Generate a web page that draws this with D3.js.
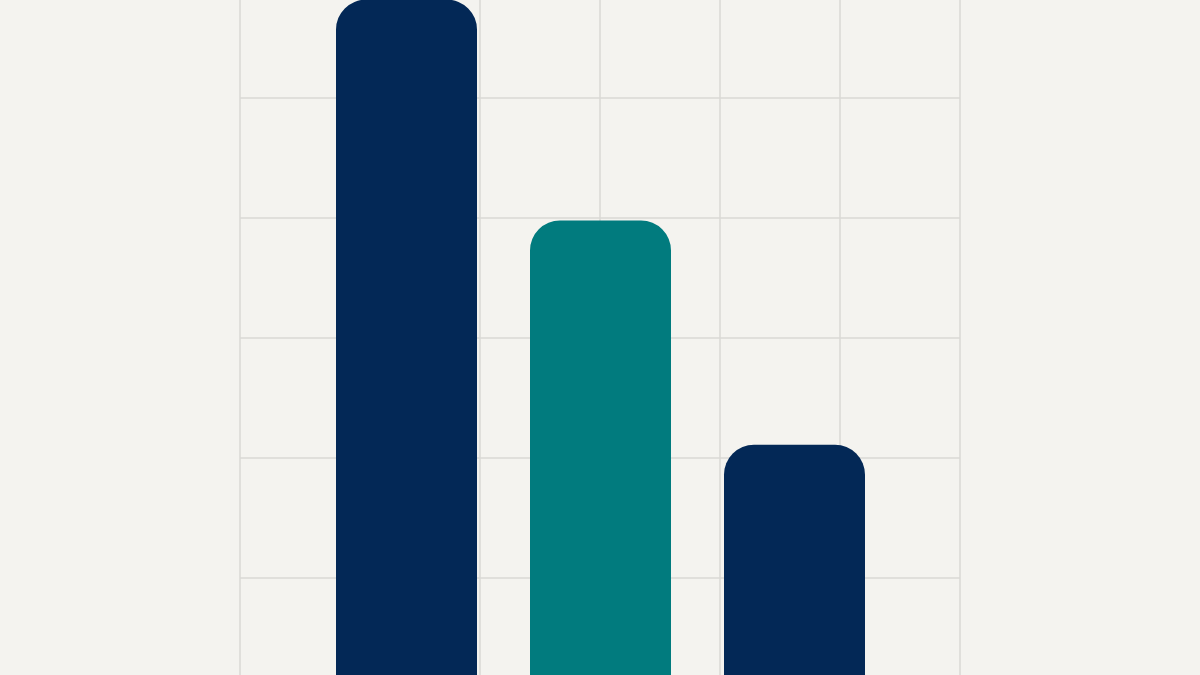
<!DOCTYPE html>
<html lang="en">
<head>
    <meta charset="UTF-8">
    <script src="https://cdn.jsdelivr.net/npm/d3@7"></script>
    <title>Bars</title>
    <style>
        html, body {
            margin: 0;
            padding: 0;
            background: #f4f3ef;
        }
        svg {
            display: block;
        }
    </style>
</head>
<body>
    <div id="chart"></div>

    <script>
        // chart data
        const categories = ["A", "B", "C"];
        const values = [58.2, 39.8, 21.1];
        const barColors = ["#032856", "#017b7e", "#032856"];
        const gridTicks = [-1, 0, 1, 2, 3, 4, 5, 6, 7];   // horizontal grid lines
        const gridColumns = [0, 1, 2, 3, 4, 5, 6];           // vertical grid lines

        const width = 1200, height = 675;

        const svg = d3.select("#chart").append("svg")
            .attr("width", width)
            .attr("height", height);

        svg.append("rect")
            .attr("width", width)
            .attr("height", height)
            .attr("fill", "#f4f3ef");

        // bottom of bars sits below the frame, value 0 at y=698
        const y = d3.scaleLinear().domain([0, 60]).range([698, -22]);
        const gridY = d3.scaleLinear().domain([0, 6]).range([698, -22]);
        const gridX = d3.scaleLinear().domain([0, 6]).range([240, 960]);

        const x = d3.scalePoint()
            .domain(categories)
            .range([406.5, 794.5]);
        const barWidth = 141;
        const radius = 30;

        const grid = svg.append("g")
            .attr("stroke", "#dad9d5")
            .attr("stroke-width", 1.5);

        grid.selectAll("line.h")
            .data(gridTicks)
            .enter()
            .append("line")
            .attr("class", "h")
            .attr("x1", gridX(0))
            .attr("x2", gridX(6))
            .attr("y1", d => gridY(d))
            .attr("y2", d => gridY(d));

        grid.selectAll("line.v")
            .data(gridColumns)
            .enter()
            .append("line")
            .attr("class", "v")
            .attr("x1", d => gridX(d))
            .attr("x2", d => gridX(d))
            .attr("y1", 0)
            .attr("y2", height);

        // rounded-top bars
        const barPath = (d, i) => {
            const x0 = x(categories[i]) - barWidth / 2;
            const x1 = x0 + barWidth;
            const top = y(d);
            const bottom = y(0) + 10;
            const p = d3.path();
            p.moveTo(x0, bottom);
            p.lineTo(x0, top + radius);
            p.arcTo(x0, top, x0 + radius, top, radius);
            p.lineTo(x1 - radius, top);
            p.arcTo(x1, top, x1, top + radius, radius);
            p.lineTo(x1, bottom);
            p.closePath();
            return p.toString();
        };

        svg.selectAll("path.bar")
            .data(values)
            .enter()
            .append("path")
            .attr("class", "bar")
            .attr("d", barPath)
            .attr("fill", (d, i) => barColors[i]);
    </script>
</body>
</html>
